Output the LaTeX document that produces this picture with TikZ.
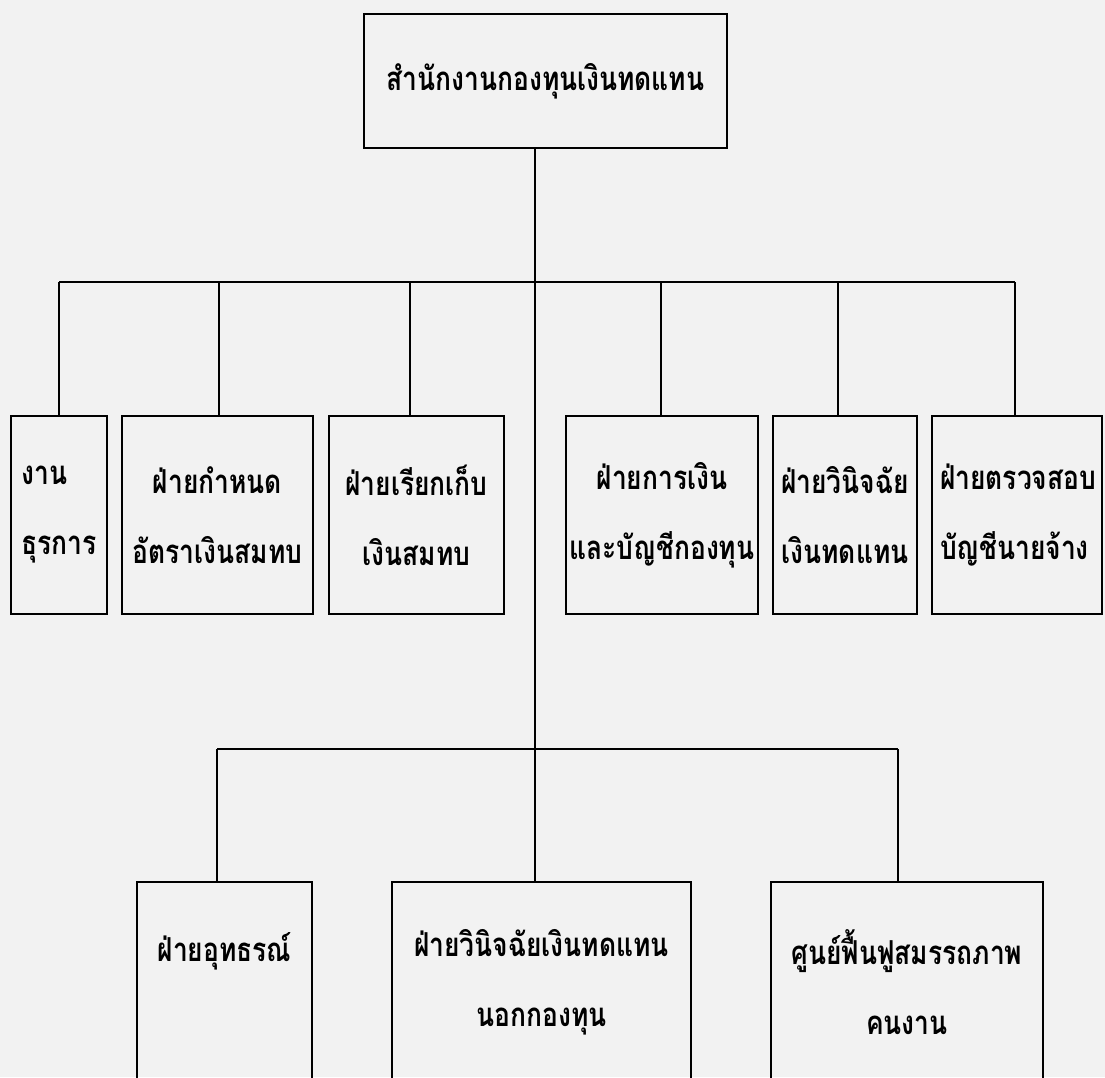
\documentclass[tikz,border=0pt]{standalone}
\usepackage{fontspec}
\newfontfamily\thai[Script=Thai,FakeStretch=0.8]{Loma}
\newcommand\thaitext{\thai\bfseries\fontsize{33}{70}\selectfont}
\begin{document}
\begin{tikzpicture}[x=1pt,y=-1pt,
  box/.style={draw=black,line width=2pt,inner sep=0pt,font=\thaitext,align=center,fill=none},
  ln/.style={draw=black,line width=2pt}]
\useasboundingbox (0,0) rectangle (1105,1077);
\fill[black!5] (0,0) rectangle (1105,1077);
\clip (0,0) rectangle (1105,1077);

% top
\node[box,minimum width=363pt,minimum height=134pt] (top) at (545.5,81) {สำนักงานกองทุนเงินทดแทน};

% middle row
\node[box,align=left,minimum width=96pt,minimum height=198pt] (m1) at (59,515) {งาน\\ธุรการ};
\node[box,minimum width=191pt,minimum height=198pt] (m2) at (217.5,515) {ฝ่ายกำหนด\\อัตราเงินสมทบ};
\node[box,minimum width=175pt,minimum height=198pt] (m3) at (416.5,515) {ฝ่ายเรียกเก็บ\\เงินสมทบ};
\node[box,minimum width=192pt,minimum height=198pt] (m4) at (662,515) {ฝ่ายการเงิน\\และบัญชีกองทุน};
\node[box,minimum width=144pt,minimum height=198pt] (m5) at (845,515) {ฝ่ายวินิจฉัย\\เงินทดแทน};
\node[box,align=left,text width=154pt,minimum width=170pt,minimum height=198pt] (m6) at (1017,515) {ฝ่ายตรวจสอบ\\บัญชีนายจ้าง};

% bottom row
\node[box,minimum width=175pt,minimum height=200pt] (b1) at (224.5,982) {ฝ่ายอุทธรณ์\\\mbox{}};
\node[box,minimum width=299pt,minimum height=200pt] (b2) at (541.5,982) {ฝ่ายวินิจฉัยเงินทดแทน\\นอกกองทุน};
\node[box,minimum width=272pt,minimum height=200pt] (b3) at (907,982) {ศูนย์ฟื้นฟูสมรรถภาพ\\คนงาน};

% junctions
\coordinate (j1) at (59,282);
\coordinate (j2) at (219,282);
\coordinate (j3) at (410,282);
\coordinate (jc) at (535,282);
\coordinate (j4) at (661,282);
\coordinate (j5) at (838,282);
\coordinate (j6) at (1015,282);
\coordinate (k1) at (217,749);
\coordinate (kc) at (535,749);
\coordinate (k3) at (898,749);

% connectors
\draw[ln] (top.south -| jc) -- (jc |- b2.north);
\draw[ln] (j1) -- (j6);
\foreach \j/\m in {j1/m1,j2/m2,j3/m3,j4/m4,j5/m5,j6/m6}
  \draw[ln] (\j) -- (\j |- \m.north);
\draw[ln] (k1) -- (k3);
\draw[ln] (k1) -- (k1 |- b1.north);
\draw[ln] (k3) -- (k3 |- b3.north);
\end{tikzpicture}
\end{document}
